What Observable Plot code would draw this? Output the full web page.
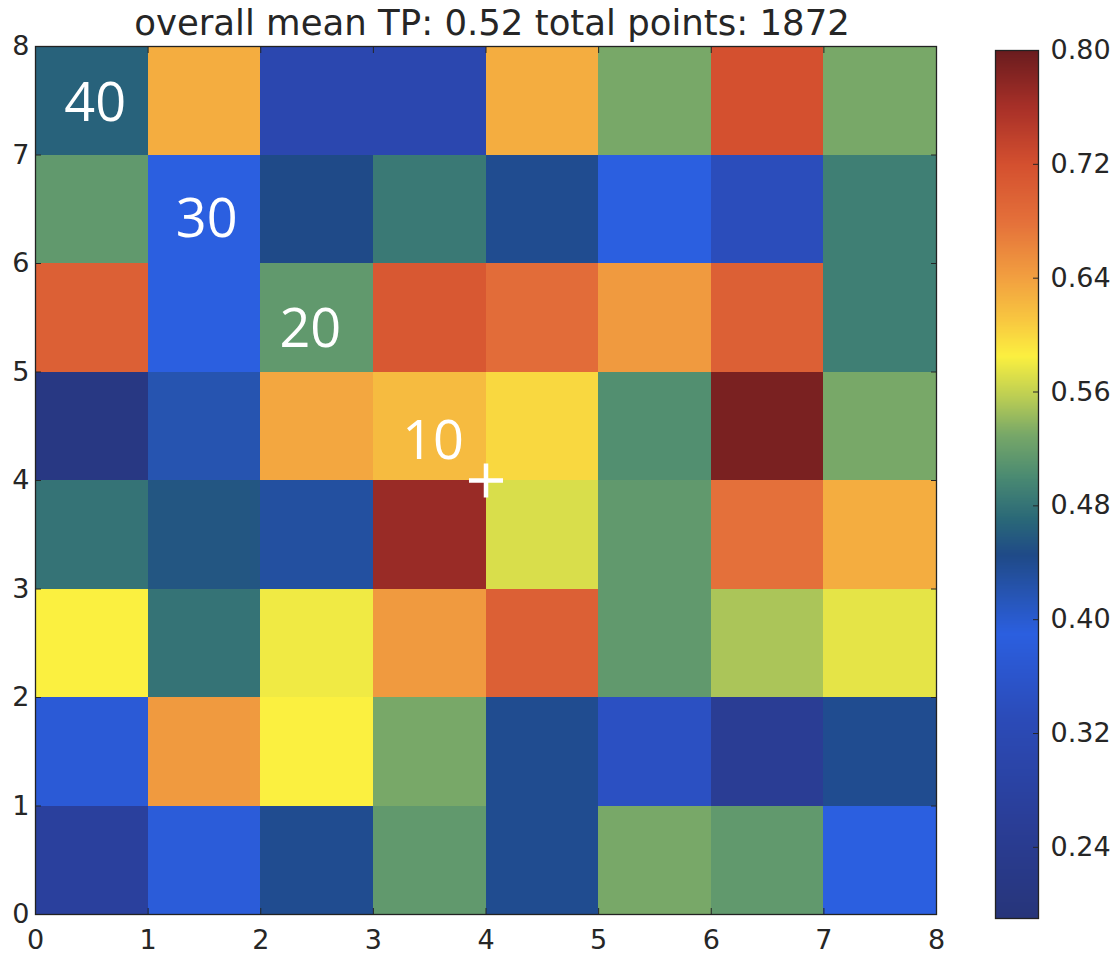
<!DOCTYPE html>
<html><head><meta charset="utf-8">
<script src="https://cdn.jsdelivr.net/npm/d3@7"></script>
<script src="https://cdn.jsdelivr.net/npm/@observablehq/plot@0.6"></script>
<style>
body{margin:0;background:#fff;}
#wrap{position:relative;width:1115px;height:954px;font-family:"DejaVu Sans",sans-serif;}
#title{position:absolute;left:35px;width:914px;top:1px;height:44px;text-align:center;font-size:35.5px;line-height:44px;color:#262626;white-space:nowrap;z-index:2;}
#main{position:absolute;left:0;top:30px;}
#cbar{position:absolute;left:960px;top:30px;}
</style></head><body>
<div id="wrap"><div id="title"></div><div id="main"></div><div id="cbar"></div></div>
<script>
// ---- data ----
const titleText = "overall mean TP: 0.52 total points: 1872";
const columns = [0, 1, 2, 3, 4, 5, 6, 7];
// TP value per cell, one array per grid row (row index = lower y edge)
const row7 = [0.465, 0.630, 0.310, 0.310, 0.630, 0.530, 0.720, 0.530];
const row6 = [0.515, 0.390, 0.445, 0.485, 0.440, 0.390, 0.335, 0.490];
const row5 = [0.700, 0.390, 0.515, 0.710, 0.685, 0.645, 0.700, 0.490];
const row4 = [0.210, 0.420, 0.635, 0.620, 0.600, 0.505, 0.790, 0.530];
const row3 = [0.480, 0.455, 0.430, 0.770, 0.570, 0.515, 0.680, 0.630];
const row2 = [0.585, 0.480, 0.580, 0.645, 0.700, 0.515, 0.550, 0.575];
const row1 = [0.375, 0.645, 0.585, 0.530, 0.440, 0.345, 0.250, 0.440];
const row0 = [0.270, 0.380, 0.440, 0.515, 0.440, 0.530, 0.515, 0.390];
const rows = [row0, row1, row2, row3, row4, row5, row6, row7];

const axisTicks = [0, 1, 2, 3, 4, 5, 6, 7, 8];
const cbarTicks = [0.24, 0.32, 0.40, 0.48, 0.56, 0.64, 0.72, 0.80];
const vmin = 0.19, vmax = 0.80;

// colormap stops (value -> colour)
const cmapStops  = [0.19, 0.26, 0.33, 0.39, 0.42, 0.445, 0.47, 0.50, 0.53, 0.555, 0.585, 0.61, 0.64, 0.68, 0.72, 0.76, 0.80];
const cmapColors = ["#27357a", "#2a3e98", "#2b4bb8", "#2b5fe0", "#2654b0", "#1f4a88", "#2a6878", "#4a8a72", "#78a868", "#b8cc55", "#fbf040", "#f8c840", "#f2a040", "#e4703a", "#d4502f", "#a83028", "#6a1c1e"];

// annotations
const annotLabels = ["40", "30", "20", "10"];
const annotX = [0.53, 1.52, 2.44, 3.53];
const annotY = [7.47, 6.40, 5.39, 4.36];
const markerX = [4];
const markerY = [4];

// ---- build ----
document.getElementById("title").textContent = titleText;
const cells = [];
rows.forEach((r, y) => r.forEach((v, i) => cells.push({x: columns[i], y, v})));

const colorSpec = {type: "linear", domain: cmapStops, range: cmapColors, clamp: true, interpolate: "rgb"};
const textColor = "#262626";

const main = Plot.plot({
  width: 960, height: 924,
  marginTop: 16, marginBottom: 40, marginLeft: 35, marginRight: 24,
  style: {fontFamily: "DejaVu Sans", fontSize: "27px", color: textColor, background: "transparent", overflow: "visible"},
  x: {domain: [0, 8]},
  y: {domain: [0, 8]},
  color: colorSpec,
  marks: [
    Plot.rect(cells, {x1: "x", x2: d => d.x + 1, y1: "y", y2: d => d.y + 1, fill: "v", shapeRendering: "crispEdges"}),
    Plot.axisX({anchor: "bottom", ticks: axisTicks, tickSize: -6, tickPadding: 21, tickFormat: d => String(d), label: null}),
    Plot.axisX({anchor: "top", ticks: axisTicks, tickSize: -6, tickFormat: () => "", label: null}),
    Plot.axisY({anchor: "left", ticks: axisTicks, tickSize: -6, tickPadding: 12, tickFormat: d => String(d), label: null}),
    Plot.axisY({anchor: "right", ticks: axisTicks, tickSize: -6, tickFormat: () => "", label: null}),
    Plot.frame({stroke: "#222", strokeWidth: 1.3}),
    Plot.text(annotLabels, {x: (d, i) => annotX[i], y: (d, i) => annotY[i], text: d => d, fill: "white", fontSize: 54, fontFamily: "Open Sans"}),
    Plot.dot(markerX, {x: d => d, y: (d, i) => markerY[i], symbol: "plus", r: 11, stroke: "white", strokeWidth: 4.5})
  ]
});
document.getElementById("main").appendChild(main);

const cbar = Plot.plot({
  width: 155, height: 924,
  marginTop: 20, marginBottom: 36, marginLeft: 35, marginRight: 77,
  style: {fontFamily: "DejaVu Sans", fontSize: "27px", color: textColor, background: "transparent", overflow: "visible"},
  x: {domain: [0, 1], axis: null},
  y: {domain: [vmin, vmax]},
  color: colorSpec,
  marks: [
    Plot.raster({fill: (x, y) => y, x1: 0, x2: 1, y1: vmin, y2: vmax, width: 1, height: 600, imageRendering: "auto"}),
    Plot.axisY({anchor: "right", ticks: cbarTicks, tickSize: -6, tickPadding: 18, tickFormat: d3.format(".2f"), label: null}),
    Plot.frame({stroke: "#222", strokeWidth: 1.3})
  ]
});
document.getElementById("cbar").appendChild(cbar);
</script>
</body></html>
